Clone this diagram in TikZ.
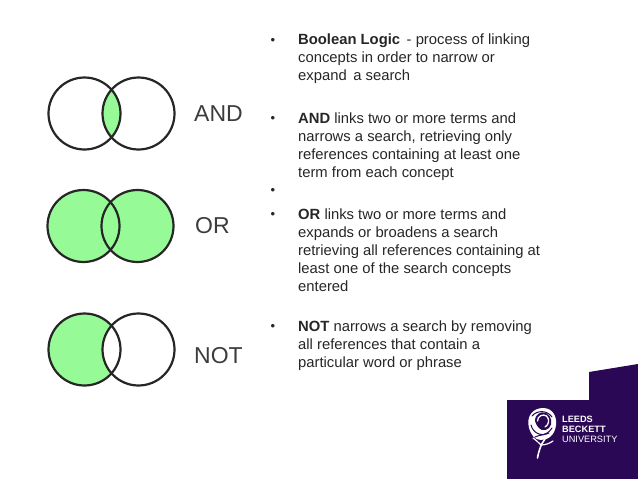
\documentclass[tikz,border=0pt]{standalone}
\usepackage{fontspec}
\setmainfont{Liberation Sans}
\definecolor{vgreen}{RGB}{150,250,150}
\definecolor{lbpurple}{RGB}{42,8,85}
\definecolor{txt}{RGB}{60,60,60}
\tikzset{
  ring/.style={draw=black!85,line width=2.2pt},
  oplabel/.style={anchor=west,inner sep=0pt,text=txt,font=\fontsize{23}{23}\selectfont},
  para/.style={anchor=north west,inner sep=0pt,text=black!85,align=left,font=\fontsize{14.8}{18}\selectfont},
  bullet/.style={anchor=center,inner sep=0pt,text=black!85,font=\fontsize{13}{13}\selectfont},
  logotext/.style={anchor=west,inner sep=0pt,text=white,font=\fontsize{9.2}{10}\selectfont},
  petal/.style={draw=white,line cap=round,line width=1.6pt},
  gap/.style={draw=lbpurple,line cap=round,line width=1pt}
}
\begin{document}
\begin{tikzpicture}[x=1pt,y=-1pt]
\useasboundingbox (0,0) rectangle (638,479);
% AND
\begin{scope}
\clip (84.5,113.5) circle (36);
\fill[vgreen] (138.5,113.5) circle (36);
\end{scope}
\draw[ring] (84.5,113.5) circle (36) (138.5,113.5) circle (36);
\node[oplabel] (andl) at (194,114) {AND};
% OR
\fill[vgreen] (83.5,226) circle (36) (137.5,226) circle (36);
\draw[ring] (83.5,226) circle (36) (137.5,226) circle (36);
\node[oplabel] (orl) at (195,226) {OR};
% NOT
\fill[vgreen] (84.5,349.5) circle (36);
\fill[white] (138.5,349.5) circle (36);
\draw[ring] (84.5,349.5) circle (36) (138.5,349.5) circle (36);
\node[oplabel] (notl) at (194,356) {NOT};
% bullets
\node[bullet] (b1) at (273,41) {•};
\node[bullet] (b2) at (273,119) {•};
\node[bullet] (b3) at (273,191) {•};
\node[bullet] (b4) at (273,215) {•};
\node[bullet] (b5) at (273,327) {•};
% text
\node[para] (p1) at (298,34) {\textbf{Boolean Logic}\, - process of linking\\concepts in order to narrow or\\expand\, a search};
\node[para] (p2) at (298,113) {\textbf{AND} links two or more terms and\\narrows a search, retrieving only\\references containing at least one\\term from each concept};
\node[para] (p3) at (298,208.5) {\textbf{OR} links two or more terms and\\expands or broadens a search\\retrieving all references containing at\\least one of the search concepts\\entered};
\node[para] (p4) at (298,320.5) {\textbf{NOT} narrows a search by removing\\all references that contain a\\particular word or phrase};
% logo block
\fill[lbpurple] (507,400) -- (589,400) -- (589,372) -- (638,364) -- (638,479) -- (507,479) -- cycle;
% rose
\fill[white] (529,428) .. controls (526,416) and (533,408) .. (543,408)
  .. controls (553,408) and (557,417) .. (556,425)
  .. controls (555,435) and (548,440) .. (541,440)
  .. controls (535,440) and (531,435) .. (529,428) -- cycle;
\draw[gap] (532,416) .. controls (537,410) and (547,410) .. (552,417);
\fill[lbpurple] (535,421) .. controls (535,414) and (541,411) .. (546,413)
  .. controls (552,416) and (553,424) .. (549,428)
  .. controls (545,432) and (538,431) .. (535,421) -- cycle;
\draw[petal,line width=1.3pt] (537.5,421) .. controls (537.5,416) and (543,413.5) .. (546.5,416)
  .. controls (550,419) and (549,425) .. (545,427);
\draw[gap] (531,425) .. controls (533,433) and (541,437) .. (549,433);
\draw[gap] (535,437) .. controls (540,434) and (546,437) .. (552,428);
\draw[white,line width=1.6pt,line cap=round] (545,439) .. controls (541,444) and (539,450) .. (537.5,458);
\draw[white,line width=1.2pt,line cap=round] (533,438) .. controls (537,441) and (539,443) .. (541,445)
  .. controls (546,445) and (550,443) .. (553,441);
\node[logotext] (l1) at (562,419) {\textbf{LEEDS}};
\node[logotext] (l2) at (562,429) {\textbf{BECKETT}};
\node[logotext] (l3) at (562,439) {UNIVERSITY};
\end{tikzpicture}
\end{document}
